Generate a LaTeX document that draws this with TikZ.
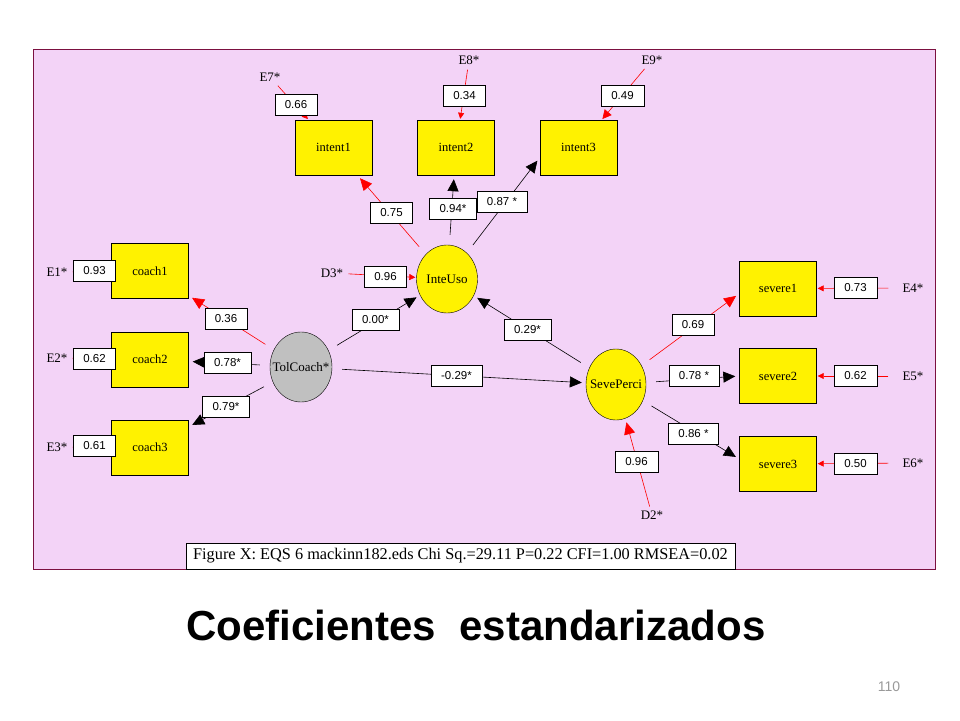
\documentclass[tikz,border=0pt]{standalone}
\usepackage{fontspec}
\setmainfont{Liberation Serif}
\setsansfont{Liberation Sans}
\usetikzlibrary{arrows.meta,shapes.geometric}
\definecolor{slidepink}{HTML}{F3D3F7}
\definecolor{framered}{HTML}{7B1040}
\definecolor{latentgrey}{HTML}{C0C0C0}
\definecolor{pagegrey}{HTML}{999999}
\tikzset{
  obsbox/.style={draw,fill=yellow,minimum width=77pt,minimum height=55pt,inner sep=0pt,font=\fontsize{12.5}{14}\selectfont},
  latent/.style={draw,ellipse,inner sep=0pt,label={[font=\fontsize{13}{15}\selectfont]center:#1}},
  coefbox/.style={draw,fill=white,minimum height=21pt,inner xsep=10pt,inner ysep=0pt,font=\sffamily\fontsize{11.5}{13}\selectfont},
  errlabel/.style={inner sep=2pt,font=\fontsize{13}{15}\selectfont},
  redpath/.style={red,line width=0.6pt,shorten <=10pt,shorten >=4pt,-{Triangle[length=12pt,width=11pt]}},
  blackpath/.style={black,line width=0.6pt,shorten <=10pt,shorten >=4pt,-{Triangle[length=12pt,width=11pt]}},
  errpath/.style={red,line width=0.6pt,shorten <=3pt,shorten >=1pt,-{Triangle[length=6pt,width=6pt]}}
}
\newcommand{\obsv}[4]{\node[obsbox] (#1) at (#2,#3) {#4};}
\newcommand{\coefval}[4]{\node[coefbox] (#1) at (#2,#3) {#4};}
\newcommand{\errl}[4]{\node[errlabel] (#1) at (#2,#3) {#4};}

\begin{document}
\begin{tikzpicture}[x=1pt,y=-1pt]
\useasboundingbox (0,0) rectangle (960,720);

\draw[framered,fill=slidepink,line width=1pt] (33,49) rectangle (935,569);

\obsv{intent1}{333.5}{147.5}{intent1}
\obsv{intent2}{456}{147.5}{intent2}
\obsv{intent3}{578.5}{147.5}{intent3}

\obsv{coach1}{150}{271}{coach1}
\obsv{coach2}{150}{359.5}{coach2}
\obsv{coach3}{150}{447.5}{coach3}

\obsv{severe1}{778}{288.5}{severe1}
\obsv{severe2}{778}{376}{severe2}
\obsv{severe3}{778}{464}{severe3}

\node[latent=InteUso,fill=yellow,minimum width=61pt,minimum height=68pt] (InteUso) at (447,279) {};
\node[latent=TolCoach*,fill=latentgrey,minimum width=62pt,minimum height=70pt] (TolCoach) at (301,367) {};
\node[latent=SevePerci,fill=yellow,minimum width=60pt,minimum height=71pt] (SevePerci) at (616,384.5) {};

\errl{E7}{270}{77}{E7*}
\errl{E8}{469}{60}{E8*}
\errl{E9}{652}{60}{E9*}
\errl{D3}{332}{273}{D3*}
\errl{E1}{57}{272}{E1*}
\errl{E2}{57}{358}{E2*}
\errl{E3}{57}{447}{E3*}
\errl{E4}{913}{288}{E4*}
\errl{E5}{913}{376}{E5*}
\errl{E6}{913}{463}{E6*}
\errl{D2}{652}{515}{D2*}

\draw[redpath] (InteUso) -- (intent1);
\draw[blackpath] (InteUso) -- (intent2);
\draw[blackpath] (InteUso) -- ([yshift=-10pt]intent3.west);
\draw[redpath] (TolCoach) -- (coach1);
\draw[blackpath] (TolCoach) -- (coach2);
\draw[blackpath] (TolCoach) -- (coach3);
\draw[blackpath] (TolCoach) -- (InteUso);
\draw[blackpath] (TolCoach) -- (SevePerci);
\draw[blackpath] (SevePerci) -- (InteUso);
\draw[redpath] (SevePerci) -- ([yshift=-5pt]severe1.west);
\draw[blackpath] (SevePerci) -- (severe2.west);
\draw[blackpath] (SevePerci) -- ([yshift=5pt]severe3.west);
\draw[redpath,shorten <=2pt] (D2) -- (SevePerci);

\draw[errpath] (E7) -- (intent1);
\draw[errpath] (E8) -- (intent2);
\draw[errpath,-{Triangle[length=9pt,width=9pt]}] (E9) -- (intent3);
\draw[errpath] (D3) -- (InteUso);
\draw[errpath] (E1) -- (coach1);
\draw[errpath] (E2) -- (coach2);
\draw[errpath] (E3) -- (coach3);
\draw[errpath,shorten <=12pt] (E4) -- (severe1);
\draw[errpath,shorten <=12pt] (E5) -- (severe2);
\draw[errpath,shorten <=12pt] (E6) -- (severe3);

\coefval{c66}{296}{104.5}{0.66}
\coefval{c34}{464.5}{95.5}{0.34}
\coefval{c49}{622.5}{95.5}{0.49}
\coefval{c75}{391.5}{213}{0.75}
\coefval{c94}{453}{208.5}{0.94*}
\coefval{c87}{502}{202}{0.87 *}
\coefval{c96a}{385.5}{276.5}{0.96}
\coefval{c00}{375.5}{320}{0.00*}
\coefval{c29}{527.5}{330}{0.29*}
\coefval{cm29}{456.5}{375.5}{-0.29*}
\coefval{c93}{94.5}{271}{0.93}
\coefval{c62a}{94.5}{359}{0.62}
\coefval{c61}{94.5}{446}{0.61}
\coefval{c36}{226}{318.5}{0.36}
\coefval{c78a}{227.5}{362.5}{0.78*}
\coefval{c79}{226}{407}{0.79*}
\coefval{c73}{855.5}{287.5}{0.73}
\coefval{c62b}{855.5}{376}{0.62}
\coefval{c50}{855.5}{463.5}{0.50}
\coefval{c69}{693}{324.5}{0.69}
\coefval{c78b}{694}{376}{0.78 *}
\coefval{c86}{693.5}{433.5}{0.86 *}
\coefval{c96b}{636.5}{462}{0.96}

\node[draw,fill=white,minimum width=549pt,minimum height=26pt,inner sep=0pt,font=\fontsize{16.3}{18}\selectfont] (caption) at (460.5,556) {Figure X: EQS 6 mackinn182.eds Chi Sq.=29.11 P=0.22 CFI=1.00 RMSEA=0.02};

\node[anchor=base,font=\sffamily\bfseries\fontsize{42}{48}\selectfont] (title) at (476,640) {Coeficientes\ \ estandarizados};
\node[text=pagegrey,font=\sffamily\fontsize{14}{16}\selectfont] (pagenum) at (889,687) {110};

\end{tikzpicture}
\end{document}
